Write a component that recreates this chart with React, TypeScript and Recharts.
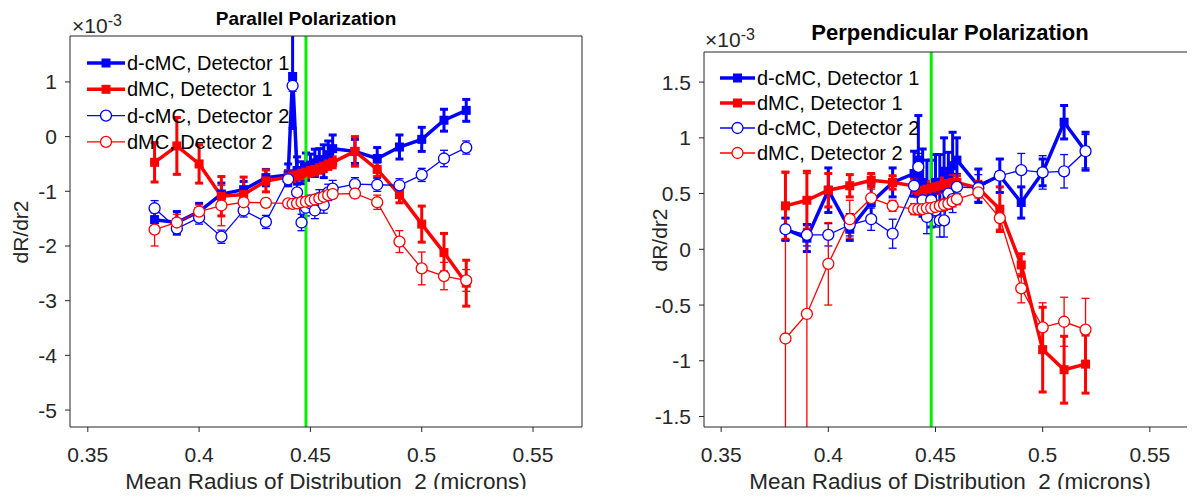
import React from "react";
import { LineChart, Line, XAxis, YAxis, ErrorBar, ReferenceLine } from "recharts";

// mean radius of distribution 2 (microns)
const radius = [0.38, 0.39, 0.4, 0.41, 0.42, 0.43, 0.44, 0.442, 0.444, 0.446, 0.448, 0.45, 0.452, 0.454, 0.456, 0.458, 0.46, 0.47, 0.48, 0.49, 0.5, 0.51, 0.52];

// parallel polarization, dR/dr2 (x1e-3)
const parCmc1 = [-1.52, -1.57, -1.37, -1.05, -0.97, -0.75, -0.7, 1.1, -0.62, -0.66, -0.55, -0.52, -0.48, -0.42, -0.45, -0.33, -0.22, -0.27, -0.4, -0.19, -0.05, 0.3, 0.48];
const parCmc1Err = [0.15, 0.2, 0.15, 0.2, 0.15, 0.15, 0.2, 0.95, 0.25, 0.2, 0.25, 0.2, 0.25, 0.2, 0.3, 0.25, 0.25, 0.22, 0.2, 0.22, 0.22, 0.2, 0.2];
const parMc1 = [-0.47, -0.17, -0.5, -1.09, -1.06, -0.81, -0.74, -0.72, -0.7, -0.67, -0.65, -0.62, -0.6, -0.57, -0.54, -0.5, -0.47, -0.27, -0.6, -1.06, -1.6, -2.12, -2.68];
const parMc1Err = [0.36, 0.52, 0.35, 0.36, 0.32, 0.2, 0.12, 0.1, 0.1, 0.1, 0.1, 0.1, 0.1, 0.1, 0.1, 0.1, 0.1, 0.27, 0.13, 0.15, 0.33, 0.35, 0.42];
const parCmc2 = [-1.31, -1.68, -1.48, -1.83, -1.35, -1.56, -0.78, 0.93, -1.02, -1.57, -1.3, -1.22, -1.35, -1.12, -1.25, -1.02, -0.95, -0.87, -0.88, -0.89, -0.7, -0.4, -0.2];
const parCmc2Err = [0.14, 0.12, 0.12, 0.12, 0.12, 0.12, 0.1, 0.1, 0.15, 0.15, 0.15, 0.15, 0.15, 0.15, 0.15, 0.15, 0.15, 0.12, 0.12, 0.12, 0.12, 0.15, 0.12];
const parMc2 = [-1.7, -1.57, -1.37, -1.26, -1.2, -1.21, -1.22, -1.23, -1.22, -1.2, -1.19, -1.17, -1.15, -1.13, -1.1, -1.07, -1.05, -1.04, -1.2, -1.92, -2.41, -2.55, -2.63];
const parMc2Err = [0.3, 0.15, 0.12, 0.37, 0.2, 0.08, 0.06, 0.06, 0.06, 0.06, 0.06, 0.06, 0.06, 0.06, 0.06, 0.06, 0.06, 0.08, 0.13, 0.2, 0.3, 0.25, 0.2];

// perpendicular polarization, dR/dr2 (x1e-3)
const perCmc1 = [0.18, 0.1, 0.53, 0.18, 0.42, 0.6, 0.68, 0.8, 0.6, 0.55, 0.5, 0.6, 0.55, 0.7, 0.62, 0.75, 0.8, 0.57, 0.66, 0.42, 0.69, 1.14, 0.88];
const perCmc1Err = [0.1, 0.12, 0.2, 0.1, 0.15, 0.13, 0.2, 0.4, 0.3, 0.25, 0.3, 0.25, 0.3, 0.3, 0.25, 0.3, 0.2, 0.15, 0.15, 0.14, 0.12, 0.15, 0.17];
const perMc1 = [0.39, 0.44, 0.53, 0.57, 0.62, 0.6, 0.57, 0.53, 0.52, 0.54, 0.55, 0.56, 0.57, 0.58, 0.59, 0.6, 0.6, 0.55, 0.36, -0.14, -0.9, -1.08, -1.03];
const perMc1Err = [0.3, 0.26, 0.15, 0.1, 0.06, 0.06, 0.06, 0.06, 0.06, 0.06, 0.06, 0.06, 0.06, 0.06, 0.06, 0.06, 0.06, 0.06, 0.2, 0.1, 0.38, 0.3, 0.26];
const perCmc2 = [0.18, 0.13, 0.13, 0.22, 0.27, 0.14, 0.57, 0.74, 0.44, 0.29, 0.44, 0.35, 0.26, 0.26, 0.5, 0.45, 0.56, 0.55, 0.66, 0.71, 0.69, 0.7, 0.88];
const perCmc2Err = [0.1, 0.1, 0.1, 0.1, 0.1, 0.13, 0.1, 0.12, 0.15, 0.15, 0.15, 0.15, 0.15, 0.15, 0.12, 0.12, 0.12, 0.12, 0.15, 0.15, 0.15, 0.15, 0.15];
const perMc2 = [-0.8, -0.58, -0.13, 0.27, 0.46, 0.39, 0.36, 0.36, 0.36, 0.37, 0.37, 0.38, 0.39, 0.4, 0.41, 0.43, 0.45, 0.51, 0.28, -0.35, -0.7, -0.65, -0.72];
const perMc2Err = [1.5, 1.26, 0.37, 0.17, 0.08, 0.05, 0.05, 0.05, 0.05, 0.05, 0.05, 0.05, 0.05, 0.05, 0.05, 0.05, 0.05, 0.05, 0.1, 0.13, 0.22, 0.22, 0.28];

const seriesNames = ["d-cMC, Detector 1", "dMC, Detector 1", "d-cMC, Detector 2", "dMC, Detector 2"];
const xTicks = [0.35, 0.4, 0.45, 0.5, 0.55];
const parYTicks = [-5, -4, -3, -2, -1, 0, 1];
const perYTicks = [-1.5, -1, -0.5, 0, 0.5, 1, 1.5];
const cutoffRadius = 0.448;

const BLUE = "#0000ff";
const RED = "#ff0000";
const AXIS = "#262626";

const seriesStyles = [
  { color: BLUE, width: 3.5, marker: "square" },
  { color: RED, width: 3.5, marker: "square" },
  { color: BLUE, width: 1.3, marker: "circle" },
  { color: RED, width: 1.3, marker: "circle" },
];

const toPoints = (vals: number[], errs: number[]) =>
  radius.map((x, i) => ({ x, y: vals[i], e: errs[i] }));

const parSeries = [
  toPoints(parCmc1, parCmc1Err),
  toPoints(parMc1, parMc1Err),
  toPoints(parCmc2, parCmc2Err),
  toPoints(parMc2, parMc2Err),
];
const perSeries = [
  toPoints(perCmc1, perCmc1Err),
  toPoints(perMc1, perMc1Err),
  toPoints(perCmc2, perCmc2Err),
  toPoints(perMc2, perMc2Err),
];

const makeDot = (color: string, marker: string) => (p: any) =>
  marker === "square" ? (
    <rect key={p.index} x={p.cx - 4.5} y={p.cy - 4.5} width={9} height={9} fill={color} />
  ) : (
    <circle key={p.index} cx={p.cx} cy={p.cy} r={5.5} fill="#fff" stroke={color} strokeWidth={1.3} />
  );

type PanelProps = {
  left: number;
  width: number;
  margin: { top: number; right: number; bottom: number; left: number };
  yDomain: [number, number];
  yTicks: number[];
  series: { x: number; y: number; e: number }[][];
  clipId: string;
};

const Panel = ({ left, width, margin, yDomain, yTicks, series, clipId }: PanelProps) => (
  <div style={{ position: "absolute", left, top: 0 }}>
    <LineChart width={width} height={497} margin={margin}>
      <XAxis
        xAxisId="b"
        dataKey="x"
        type="number"
        domain={[0.342, 0.572]}
        ticks={xTicks}
        interval={0}
        allowDataOverflow
        height={40}
        stroke={AXIS}
        tickSize={5}
        tickMargin={15}
        tick={{ fill: AXIS, fontSize: 21 }}
      />
      <XAxis
        xAxisId="t"
        orientation="top"
        dataKey="x"
        type="number"
        domain={[0.342, 0.572]}
        ticks={xTicks}
        interval={0}
        allowDataOverflow
        height={1}
        stroke={AXIS}
        tickSize={5}
        tick={false}
      />
      <YAxis
        yAxisId="l"
        type="number"
        domain={yDomain}
        ticks={yTicks}
        interval={0}
        allowDataOverflow
        width={40}
        stroke={AXIS}
        tickSize={5}
        tickMargin={8}
        tick={{ fill: AXIS, fontSize: 21 }}
      />
      <YAxis
        yAxisId="r"
        orientation="right"
        type="number"
        domain={yDomain}
        ticks={yTicks}
        interval={0}
        allowDataOverflow
        width={1}
        stroke={AXIS}
        tickSize={5}
        tick={false}
      />
      {series.map((pts, i) => {
        const s = seriesStyles[i];
        return (
          <Line
            key={seriesNames[i]}
            name={seriesNames[i]}
            xAxisId="b"
            yAxisId="l"
            data={pts}
            dataKey="y"
            type="linear"
            stroke={s.color}
            strokeWidth={s.width}
            dot={makeDot(s.color, s.marker)}
            activeDot={false}
            isAnimationActive={false}
          >
            <ErrorBar
              dataKey="e"
              direction="y"
              width={4}
              stroke={s.color}
              strokeWidth={s.width === 3.5 ? 3 : 1.3}
              clipPath={`url(#${clipId})`}
            />
          </Line>
        );
      })}
      <ReferenceLine xAxisId="b" yAxisId="l" x={cutoffRadius} stroke="#00f000" strokeWidth={3} />
    </LineChart>
  </div>
);

const LegendBlock = ({ x, y, step, len }: { x: number; y: number; step: number; len: number }) => (
  <g>
    {seriesNames.map((name, i) => {
      const s = seriesStyles[i];
      const cy = y + i * step;
      const mx = x + len / 2;
      return (
        <g key={name}>
          <line x1={x} x2={x + len} y1={cy} y2={cy} stroke={s.color} strokeWidth={s.width} />
          {s.marker === "square" ? (
            <rect x={mx - 4.5} y={cy - 4.5} width={9} height={9} fill={s.color} />
          ) : (
            <circle cx={mx} cy={cy} r={5.5} fill="#fff" stroke={s.color} strokeWidth={1.3} />
          )}
          <text x={x + len + 2} y={cy} dominantBaseline="central" fontSize={20} fill="#000">
            {name}
          </text>
        </g>
      );
    })}
  </g>
);

const xLabel = "Mean Radius of Distribution  2 (microns)";

export default function App() {
  return (
    <div
      style={{
        position: "relative",
        width: 1195,
        height: 497,
        margin: -8,
        overflow: "hidden",
        background: "#fff",
        fontFamily: '"Liberation Sans", Arial, sans-serif',
      }}
    >
      <svg width={0} height={0} style={{ position: "absolute" }}>
        <defs>
          <clipPath id="clipPar">
            <rect x={70} y={36} width={512} height={391} />
          </clipPath>
          <clipPath id="clipPer">
            <rect x={64} y={52} width={493} height={375} />
          </clipPath>
        </defs>
      </svg>
      <Panel
        left={0}
        width={600}
        margin={{ top: 35, right: 17, bottom: 30, left: 30 }}
        yDomain={[-5.31, 1.84]}
        yTicks={parYTicks}
        series={parSeries}
        clipId="clipPar"
      />
      <Panel
        left={640}
        width={600}
        margin={{ top: 51, right: 42, bottom: 30, left: 24 }}
        yDomain={[-1.594, 1.77]}
        yTicks={perYTicks}
        series={perSeries}
        clipId="clipPer"
      />
      <svg
        width={1195}
        height={497}
        style={{ position: "absolute", left: 0, top: 0, pointerEvents: "none" }}
      >
        <text x={306} y={25} textAnchor="middle" fontSize={19} fontWeight="bold" fill="#000">
          Parallel Polarization
        </text>
        <text x={950} y={40} textAnchor="middle" fontSize={22} fontWeight="bold" fill="#000">
          Perpendicular Polarization
        </text>
        <text x={72} y={33} fontSize={21} fill={AXIS}>
          ×10<tspan dy={-7} fontSize={16}>-3</tspan>
        </text>
        <text x={705} y={47} fontSize={21} fill={AXIS}>
          ×10<tspan dy={-7} fontSize={16}>-3</tspan>
        </text>
        <text transform="translate(28,232) rotate(-90)" textAnchor="middle" fontSize={21} fill={AXIS}>
          dR/dr2
        </text>
        <text transform="translate(667,240) rotate(-90)" textAnchor="middle" fontSize={21} fill={AXIS}>
          dR/dr2
        </text>
        <text x={326} y={489} textAnchor="middle" fontSize={22.5} fill={AXIS} style={{ whiteSpace: "pre" }}>
          {xLabel}
        </text>
        <text x={950} y={489} textAnchor="middle" fontSize={22.5} fill={AXIS} style={{ whiteSpace: "pre" }}>
          {xLabel}
        </text>
        <LegendBlock x={87} y={63} step={26.3} len={38} />
        <LegendBlock x={720} y={78} step={25} len={35} />
      </svg>
    </div>
  );
}
